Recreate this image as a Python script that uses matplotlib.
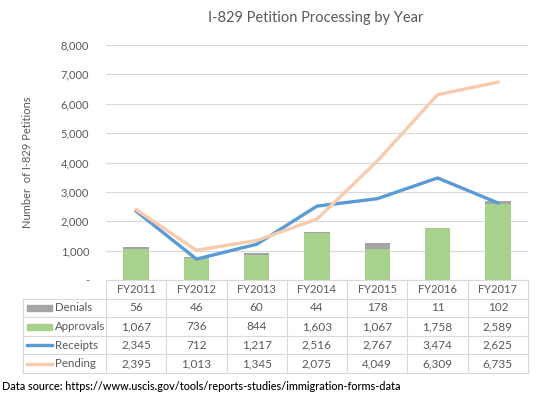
import numpy as np
import matplotlib
matplotlib.use("Agg")
from matplotlib import pyplot as plt
from matplotlib.lines import Line2D
from matplotlib.patches import Rectangle

years = ["FY2011", "FY2012", "FY2013", "FY2014", "FY2015", "FY2016", "FY2017"]
denials = [56, 46, 60, 44, 178, 11, 102]
approvals = [1067, 736, 844, 1603, 1067, 1758, 2589]
receipts = [2345, 712, 1217, 2516, 2767, 3474, 2625]
pending = [2395, 1013, 1345, 2075, 4049, 6309, 6735]

plt.rcParams['font.family'] = ['Lato', 'DejaVu Sans']
grey = "#a5a5a5"
green = "#a9d18e"
blue = "#5b9bd5"
peach = "#f8cbad"
grid = "#d9d9d9"
txt = "#595959"

W, H = 544, 396
fig = plt.figure(figsize=(W / 100, H / 100), dpi=100)
L, R, T, B = 106, 528, 45, 280
ax = fig.add_axes([L / W, 1 - B / H, (R - L) / W, (B - T) / H])

x = np.arange(len(years))
ax.bar(x, approvals, width=0.42, color=green, zorder=2)
ax.bar(x, denials, width=0.42, bottom=approvals, color=grey, zorder=2)
ax.plot(x, receipts, color=blue, lw=2.4, zorder=3)
ax.plot(x, pending, color=peach, lw=2.4, zorder=3)

ax.set_xlim(-0.5, len(years) - 0.5)
ax.set_ylim(0, 8000)
ax.set_yticks(range(0, 8001, 1000))
ax.set_yticklabels(["-"] + ["{:,}".format(v) for v in range(1000, 8001, 1000)])
ax.tick_params(axis='y', length=0, pad=12, labelsize=8, labelcolor=txt)
ax.set_xticks([])
ax.grid(axis='y', color=grid, lw=0.8, zorder=0)
for s in ax.spines.values():
    s.set_visible(False)

fig.text(316 / W, 1 - 18 / H, "I-829 Petition Processing by Year",
         ha='center', va='center', fontsize=10.5, color=txt)
fig.text(28 / W, 1 - 162 / H, "Number  of I-829 Petitions", rotation=90,
         ha='center', va='center', fontsize=8, color=txt)

# data table under the axis
cw = (R - L) / len(years)
rh = 18.6
lab_left = 23
rows = [("Denials", denials), ("Approvals", approvals),
        ("Receipts", receipts), ("Pending", pending)]
bottom = B + rh * 5

def fx(px):
    return px / W

def fy(py):
    return 1 - py / H

def hline(x0, x1, y):
    fig.add_artist(Line2D([fx(x0), fx(x1)], [fy(y), fy(y)], color=grid, lw=0.8))

def vline(xp, y0, y1):
    fig.add_artist(Line2D([fx(xp), fx(xp)], [fy(y0), fy(y1)], color=grid, lw=0.8))

hline(L, R, B)
for i in range(1, 6):
    hline(lab_left, R, B + rh * i)
vline(lab_left, B + rh, bottom)
for k in range(len(years) + 1):
    vline(L + k * cw, B, bottom)

for k, yr in enumerate(years):
    fig.text(fx(L + (k + 0.5) * cw), fy(B + rh / 2), yr,
             ha='center', va='center', fontsize=8, color=txt)

for i, (name, vals) in enumerate(rows):
    yc = B + rh * (i + 1.5)
    if name in ("Denials", "Approvals"):
        c = grey if name == "Denials" else green
        fig.add_artist(Rectangle((fx(27), fy(yc + 3)), 25 / W, 6 / H, color=c))
    else:
        c = blue if name == "Receipts" else peach
        fig.add_artist(Line2D([fx(27), fx(52)], [fy(yc), fy(yc)], color=c, lw=2.4))
    fig.text(fx(55), fy(yc), name, ha='left', va='center', fontsize=8.3, color=txt)
    for k, v in enumerate(vals):
        fig.text(fx(L + (k + 0.5) * cw), fy(yc), "{:,}".format(v),
                 ha='center', va='center', fontsize=8.5, color=txt)

fig.text(fx(2), fy(387), "Data source: https://www.uscis.gov/tools/reports-studies/immigration-forms-data",
         ha='left', va='center', fontsize=7.85, color='black', fontweight='medium')

fig.savefig("out.png", dpi=100)
